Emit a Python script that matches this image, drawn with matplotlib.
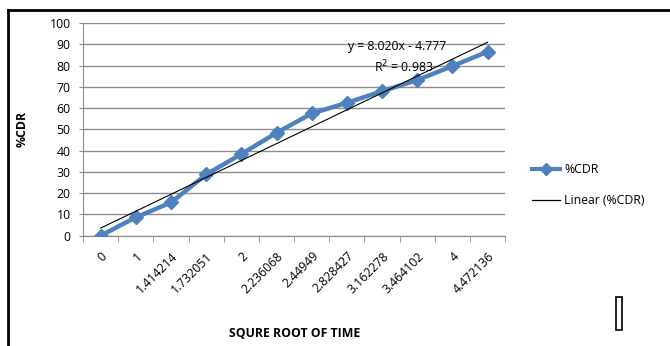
import numpy as np
import matplotlib
matplotlib.use("Agg")
import matplotlib.pyplot as plt
from matplotlib.lines import Line2D
from matplotlib.patches import Rectangle

categories = ["0", "1", "1.414214", "1.732051", "2", "2.236068", "2.44949",
              "2.828427", "3.162278", "3.464102", "4", "4.472136"]
cdr = [0, 8.6, 15.6, 28.8, 38.4, 48.4, 57.5, 62.5, 68.0, 73.2, 79.8, 86.6]
yticks = [0, 10, 20, 30, 40, 50, 60, 70, 80, 90, 100]

plt.rcParams['font.family'] = ['Open Sans', 'DejaVu Sans']
fs = 8.8

fig = plt.figure(figsize=(6.7, 3.46), dpi=100)
ax = fig.add_axes([0.124, 0.319, 0.630, 0.614])

n = len(categories)
x = np.arange(1, n + 1)
blue = "#4F81BD"
grid_c = "#8c8c8c"

ax.plot(x, cdr, color=blue, lw=3.2, marker="D", ms=7, mfc=blue, mec=blue, zorder=3)

# linear trendline (least squares on category index)
coef = np.polyfit(x, cdr, 1)
ax.plot(x, np.polyval(coef, x), color="black", lw=0.8, zorder=4)

ax.set_xlim(0.5, n + 0.5)
ax.set_ylim(0, 100)
ax.set_yticks(yticks)
ax.set_yticklabels([str(v) for v in yticks], fontsize=fs)
ax.yaxis.grid(True, color=grid_c, lw=1)
ax.set_axisbelow(True)

ax.set_xticks(x)
ax.set_xticklabels(categories, rotation=45, ha="right", va="top",
                   rotation_mode="anchor", fontsize=fs)
ax.tick_params(axis="x", which="major", length=0, pad=10)
ax.set_xticks(np.arange(0.5, n + 1.5, 1), minor=True)
ax.tick_params(axis="x", which="minor", length=4, color=grid_c, direction="out")
ax.tick_params(axis="y", length=3, color=grid_c, pad=6)

for s in ["top", "right"]:
    ax.spines[s].set_visible(False)
ax.spines["left"].set_color(grid_c)
ax.spines["bottom"].set_color(grid_c)

ax.set_ylabel("%CDR", fontsize=fs, fontweight="bold")
ax.set_xlabel("SQURE ROOT OF TIME", fontsize=fs, fontweight="bold")
ax.xaxis.set_label_coords(0.5, -0.43)
ax.yaxis.set_label_coords(-0.13, 0.5)

ax.text(0.745, 0.89, "y = 8.020x - 4.777", transform=ax.transAxes, fontsize=fs,
        ha="center", va="center")
ax.text(0.76, 0.795, "R$^2$ = 0.983", transform=ax.transAxes, fontsize=fs,
        ha="center", va="center")

handles = [Line2D([], [], color=blue, lw=3, marker="D", ms=6),
           Line2D([], [], color="black", lw=0.9)]
fig.legend(handles, ["%CDR", "Linear (%CDR)"], loc="center left",
           bbox_to_anchor=(0.778, 0.465), frameon=False, fontsize=fs,
           handlelength=2.3, handletextpad=0.3, labelspacing=1.45)

# outer border (top and left)
fig.add_artist(Line2D([0.012, 1.0], [0.972, 0.972], transform=fig.transFigure,
                      color="black", lw=2))
fig.add_artist(Line2D([0.012, 0.012], [0.0, 0.972], transform=fig.transFigure,
                      color="black", lw=2))
# small rectangle
fig.add_artist(Rectangle((616 / 670, 1 - 330 / 346), 6 / 670, 33 / 346,
                         transform=fig.transFigure, fill=False, ec="black", lw=1.2))

fig.savefig("out.png", dpi=100)
